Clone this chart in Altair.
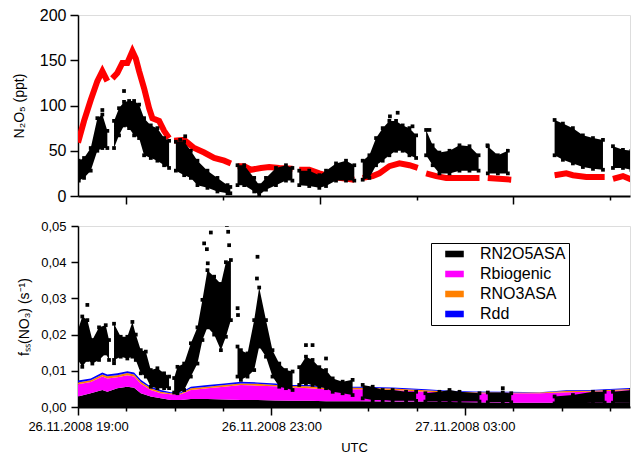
import altair as alt
import pandas as pd

FONT = "Liberation Sans"

# ---------------- top panel: N2O5 (ppt); time = minutes after 26.11.2008 19:00 UTC
red_min = [0, 7.5, 15.8, 24, 30.2, 36.4,
           42.6, 48.8, 55, 61.2, 67.5, 71.7, 75.8, 82, 88.2, 92.3, 100.6, 106.8, 113,
           119.3, 131.7, 144.1, 156.5, 168.9, 181.4, 189.7,
           197.9, 206.2, 214.5, 227, 237.3, 249.7, 266.2,
           274.5, 286.9, 299.4, 311.8, 324.2, 342.8,
           353.2, 365.6, 373.9, 386.3, 398.8, 411.2, 421.5,
           431.9, 444.4, 456.8, 473.3, 498.1,
           508.4, 537.5,
           591.3, 605.8, 614, 630.6, 653.4,
           663.7, 676.1, 686.6]
red_ppt = [59, 83, 106, 127, 138, 127,
           130, 136, 147, 147, 160, 152, 138, 119, 97, 86, 83, 72, 64,
           61, 62, 53, 48, 42, 39, 36,
           33, 33, 29, 31, 32, 31, 30,
           29, 29, 25, 22, 20, 18,
           20, 22, 25, 33, 36, 34, 31,
           25, 22, 20, 20, 20,
           20, 18,
           23, 25, 23, 21, 21,
           19, 22, 18]
red_seg = [1]*6 + [2]*13 + [3]*7 + [4]*7 + [5]*6 + [6]*7 + [7]*5 + [8]*2 + [9]*5 + [10]*3

blk_min = [1, 7.5, 15.8, 24, 30.2, 36.4,
           44.7, 50.9, 57.1, 63.4, 69.6, 75.8, 82, 90.3, 98.5, 106.8, 113,
           121.4, 131.7, 140, 148.2, 160.6, 173, 185.5, 189,
           197.9, 206.2, 218.6, 224.8, 233.2, 245.6, 258, 266,
           274.5, 286.9, 299.4, 307.7, 320.1, 332.5, 342.8,
           353.2, 361.5, 369.8, 378, 386.3, 394.6, 402.8, 411.2, 419.5,
           431.9, 440, 448.4, 460.9, 473.3, 485.7, 497,
           508.4, 520.9, 533.3,
           591.3, 601.6, 614, 626.4, 638.9, 651.3,
           663.7, 676.1, 686.6]
blk_low = [17, 20, 28, 50, 53, 53,
           53, 67, 78, 75, 67, 64, 45, 42, 39, 34, 31,
           28, 23, 20, 12, 9, 5, 3, 3,
           12, 12, 5, 1, 7, 12, 17, 17,
           12, 11, 9, 11, 17, 17, 17,
           18, 20, 34, 39, 45, 50, 50, 45, 42,
           45, 34, 25, 25, 28, 28, 28,
           25, 25, 25,
           45, 40, 36, 32, 30, 29,
           31, 31, 29]
blk_high = [39, 42, 53, 86, 90, 72,
            83, 97, 104, 105, 105, 101, 86, 78, 75, 64, 61,
            60, 60, 50, 39, 28, 20, 12, 10,
            34, 34, 20, 12, 20, 31, 34, 31,
            28, 28, 23, 28, 36, 39, 34,
            39, 45, 64, 75, 83, 83, 78, 75, 67,
            73, 56, 48, 50, 56, 55, 45,
            55, 45, 50,
            84, 80, 75, 67, 64, 62,
            55, 51, 50]
blk_seg = [1]*6 + [2]*11 + [3]*8 + [4]*8 + [5]*7 + [6]*9 + [7]*7 + [8]*3 + [9]*6 + [10]*3

blk_out_min = [30.2, 57.1, 126.7, 133, 387, 396.6, 415, 436, 508]
blk_out_ppt = [95, 116, 62, 66, 88, 92, 77, 73, 56]

# ---------------- bottom panel: f_ss(NO3) contributions (s^-1)
series_names = ["RN2O5ASA", "Rbiogenic", "RNO3ASA", "Rdd"]
series_colors = ["#000000", "#ff00ff", "#ff8000", "#0000ff"]

area_min = [0, 15.8, 30.2, 36.4, 48.8, 61.2, 69.6, 77.9, 90.3, 102.7, 115.2, 127.6,
            140, 160.6, 181.4, 202.1, 222.7, 245, 266.2, 286.9, 307.7, 349.1, 390.4,
            431.9, 460.9, 490, 531.3, 572.7, 605.8, 634.7, 686.6]
rn2o5asa = [.0029, .0038, .0047, .0042, .0052, .0056, .0053, .0038, .0029, .0024, .0019, .0019,
            .0022, .0022, .0021, .0019, .0019, .0018, .0017, .0017, .0016, .0016, .0015,
            .0015, .0014, .0013, .0012, .0012, .0012, .0012, .0013]
rbiogenic = [.0034, .0031, .0037, .0037, .0030, .0032, .0031, .0026, .0018, .0014, .0016, .0016,
             .0025, .0030, .0035, .0042, .0040, .0039, .0037, .0035, .0033, .0033, .0032,
             .0027, .0026, .0025, .0026, .0026, .0029, .0030, .0034]
rno3asa = [.0005, .0005, .0006, .0006, .0006, .0006, .0006, .0006, .0005, .0004, .0003, .0003,
           .0005, .0004, .0005, .0004, .0005, .0004, .0004, .0005, .0004, .0004, .0004,
           .0004, .0003, .0003, .0002, .0002, .0003, .0003, .0003]
rdd = [.0005, .0005, .0005, .0005, .0005, .0005, .0005, .0005, .0004, .0005, .0003, .0003,
       .0004, .0005, .0004, .0005, .0004, .0004, .0003, .0004, .0003, .0003, .0003,
       .0003, .0002, .0002, .0002, .0001, .0002, .0002, .0003]

fss_min = [0, 5.3, 11.6, 17.8, 26.1, 34.4, 38.5,
           44.7, 53, 61.2, 67.5, 71.7, 77.9, 84.1, 90.3, 98.5, 106.8, 113,
           119.3, 123.4, 131.7, 140, 148.2, 154.4, 160.6, 168.9, 177.3, 183.5, 189.7,
           197.9, 202.1, 210.3, 218.6, 224.8, 233.2, 241.3, 249.7, 258, 266.2,
           274.5, 282.8, 291, 299.4, 307.7, 316, 328.3, 340.7,
           353.2, 365.6, 378, 390.4, 407, 419.5,
           431, 448.4, 460.9, 473.3, 498.1,
           508.4, 527, 537.5,
           591.3, 614, 638.9, 653.4,
           663.7, 686.6]
fss_low = [.0130, .0111, .0130, .0120, .0130, .0148, .0130,
           .0130, .0139, .0134, .0139, .0130, .0093, .0084, .0056, .0052, .0052, .0052,
           .0040, .0038, .0047, .0084, .0120, .0185, .0220, .0200, .0157, .0194, .0240,
           .0084, .0075, .0084, .0102, .0167, .0139, .0084, .0056, .0052, .0047,
           .0061, .0065, .0061, .0056, .0052, .0042, .0038, .0033,
           .0024, .0019, .0019, .0017, .0017, .0017,
           .0015, .0015, .0015, .0015, .0015,
           .0013, .0013, .0013,
           .0010, .0010, .0012, .0012,
           .0012, .0012]
fss_high = [.0213, .0250, .0240, .0185, .0220, .0226, .0185,
            .0230, .0194, .0194, .0235, .0200, .0157, .0153, .0102, .0107, .0093, .0084,
            .0080, .0111, .0120, .0176, .0220, .0296, .0378, .0360, .0340, .0400, .0406,
            .0167, .0157, .0148, .0240, .0330, .0240, .0157, .0120, .0102, .0098,
            .0110, .0139, .0130, .0110, .0102, .0079, .0070, .0075,
            .0061, .0056, .0047, .0047, .0042, .0042,
            .0038, .0042, .0047, .0042, .0038,
            .0040, .0040, .0038,
            .0029, .0033, .0042, .0042,
            .0042, .0047]
fss_seg = [1]*7 + [2]*11 + [3]*11 + [4]*10 + [5]*8 + [6]*6 + [7]*5 + [8]*3 + [9]*4 + [10]*2

fss_out_min = [11.6, 44.7, 156.5, 159.9, 161, 164.8, 184.7, 186.3, 187.5, 198, 198.5,
               222, 222.7, 282.8, 291, 307.7, 527]
fss_out_val = [.0282, .0121, .0452, .0436, .0397, .0482, .0503, .0484, .0447, .0273, .0254,
               .0355, .0415, .0171, .0171, .0134, .0052]


def hrs(mins):
    return [19 + m / 60.0 for m in mins]


red_df = pd.DataFrame({"h": hrs(red_min), "v": red_ppt, "seg": red_seg})
blk_df = pd.DataFrame({"h": hrs(blk_min), "lo": blk_low, "hi": blk_high, "seg": blk_seg})
blk_pts = pd.concat([
    pd.DataFrame({"h": hrs(blk_min), "v": blk_low}),
    pd.DataFrame({"h": hrs(blk_min), "v": blk_high}),
    pd.DataFrame({"h": hrs(blk_out_min), "v": blk_out_ppt}),
])

rows = []
for i, m in enumerate(area_min):
    for k, (name, vals) in enumerate(zip(series_names, [rn2o5asa, rbiogenic, rno3asa, rdd])):
        rows.append({"h": 19 + m / 60.0, "series": name, "val": vals[i], "ord": k})
area_df = pd.DataFrame(rows)
fss_df = pd.DataFrame({"h": hrs(fss_min), "lo": fss_low, "hi": fss_high, "seg": fss_seg})
fss_pts = pd.concat([
    pd.DataFrame({"h": hrs(fss_min), "v": fss_low}),
    pd.DataFrame({"h": hrs(fss_min), "v": fss_high}),
    pd.DataFrame({"h": hrs(fss_out_min), "v": fss_out_val}),
])

W = 552
XDOM = [19, 30.414]
xscale = alt.Scale(domain=XDOM, nice=False, zero=False)

top_xaxis = alt.Axis(values=[20, 22, 24, 26, 28, 30], labels=False, title=None, grid=False,
                     domainColor="black", domainWidth=2, tickColor="black", tickWidth=1.5,
                     tickSize={"condition": {"test": "datum.value % 4 == 0", "value": 8}, "value": 4})
bot_xaxis = alt.Axis(values=list(range(19, 31)), title="UTC", grid=False, labelFlush=False,
                     labelExpr="datum.value == 19 ? '26.11.2008 19:00' : datum.value == 23 ? '26.11.2008 23:00' : datum.value == 27 ? '27.11.2008 03:00' : ''",
                     labelFont=FONT, labelFontSize=13, labelColor="black", labelPadding=5,
                     titleFont=FONT, titleFontSize=13, titleFontWeight="normal", titleColor="black", titlePadding=8,
                     domainColor="black", domainWidth=2, tickColor="black", tickWidth=1.5,
                     tickSize={"condition": {"test": "datum.value == 19 || datum.value == 23 || datum.value == 27", "value": 8}, "value": 4})

top_yaxis = alt.Axis(values=[0, 50, 100, 150, 200], grid=False, title="N₂O₅ (ppt)",
                     labelFont=FONT, labelFontSize=16, labelColor="black", labelPadding=4,
                     titleFont=FONT, titleFontSize=14, titleFontWeight="normal", titleColor="black",
                     titleX=-59, titleBaseline="middle",
                     domainColor="black", domainWidth=1.5, tickColor="black", tickWidth=1.5, tickSize=8)
bot_yaxis = alt.Axis(values=[0, 0.01, 0.02, 0.03, 0.04, 0.05], grid=False, title="fₛₛ(NO₃) (s⁻¹)",
                     labelExpr="replace(format(datum.value, '.2f'), '.', ',')",
                     labelFont=FONT, labelFontSize=13, labelColor="black", labelPadding=5,
                     titleFont=FONT, titleFontSize=14, titleFontWeight="normal", titleColor="black",
                     titleX=-54, titleBaseline="middle",
                     domainColor="black", domainWidth=1.5, tickColor="black", tickWidth=1.5, tickSize=7)

ytop = alt.Scale(domain=[0, 200], nice=False)
ybot = alt.Scale(domain=[0, 0.05], nice=False)

red = alt.Chart(red_df).mark_line(color="#ff0000", strokeWidth=6, clip=True).encode(
    x=alt.X("h:Q", scale=xscale, axis=top_xaxis),
    y=alt.Y("v:Q", scale=ytop, axis=top_yaxis),
    detail="seg:N",
)
band = alt.Chart(blk_df).mark_area(color="black", opacity=1, clip=True).encode(
    x=alt.X("h:Q", scale=xscale, axis=top_xaxis),
    y=alt.Y("lo:Q", scale=ytop, axis=top_yaxis),
    y2="hi:Q",
    detail="seg:N",
)
pts = alt.Chart(blk_pts).mark_square(color="black", size=14, opacity=1, clip=True).encode(
    x=alt.X("h:Q", scale=xscale, axis=top_xaxis),
    y=alt.Y("v:Q", scale=ytop, axis=top_yaxis),
)
top = alt.layer(red, band, pts).properties(width=W, height=181)

areas = alt.Chart(area_df).mark_area(opacity=1, clip=True).encode(
    x=alt.X("h:Q", scale=xscale, axis=bot_xaxis),
    y=alt.Y("val:Q", scale=ybot, axis=bot_yaxis, stack="zero"),
    color=alt.Color("series:N", scale=alt.Scale(domain=series_names, range=series_colors),
                    legend=alt.Legend(orient="none", legendX=353, legendY=17, title=None,
                                      strokeColor="black", fillColor="white", padding=3,
                                      symbolType="M-1.16,-0.41H1.16V0.41H-1.16Z", symbolSize=256,
                                      symbolStrokeWidth=0, symbolOffset=12.5, labelOffset=17.5,
                                      labelFont=FONT, labelFontSize=16, labelColor="black",
                                      rowPadding=4, symbolOpacity=1)),
    order=alt.Order("ord:Q"),
)
fband = alt.Chart(fss_df).mark_area(color="black", opacity=1, clip=True).encode(
    x=alt.X("h:Q", scale=xscale, axis=bot_xaxis),
    y=alt.Y("lo:Q", scale=ybot, axis=bot_yaxis),
    y2="hi:Q",
    detail="seg:N",
)
fpts = alt.Chart(fss_pts).mark_square(color="black", size=14, opacity=1, clip=True).encode(
    x=alt.X("h:Q", scale=xscale, axis=bot_xaxis),
    y=alt.Y("v:Q", scale=ybot, axis=bot_yaxis),
)
bottom = alt.layer(areas, fband, fpts).properties(width=W, height=181)

chart = alt.vconcat(top, bottom, spacing=13).resolve_legend(color="independent").properties(
    padding={"left": 11, "top": 6, "right": 0, "bottom": 0}
).configure_view(stroke=None).configure(background="white")

chart.save("out.html", embed_options={"renderer": "svg", "actions": False})
